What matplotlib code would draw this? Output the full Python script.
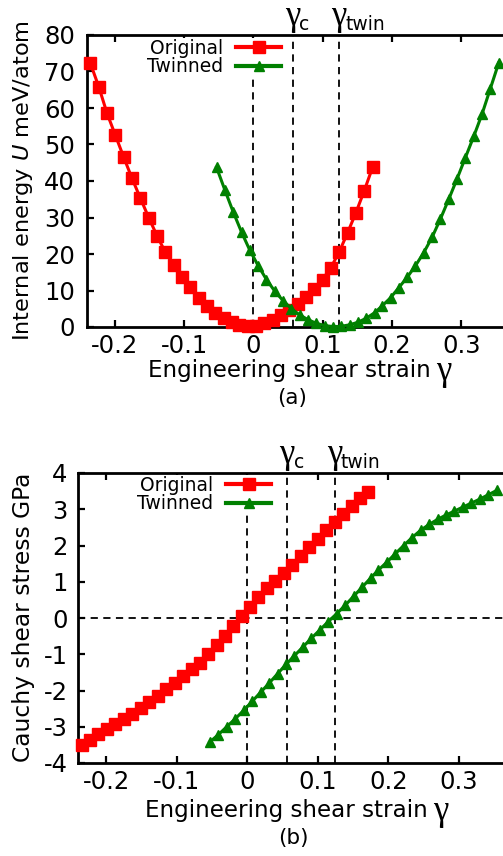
import matplotlib
matplotlib.use("Agg")
import matplotlib.pyplot as plt
from matplotlib.lines import Line2D

plt.rcParams['font.family'] = ['DejaVu Sans']

W, H = 503, 856

# ---------------- data ----------------
strain_orig = [-0.235, -0.223, -0.211, -0.199, -0.187, -0.175, -0.163, -0.151,
               -0.139, -0.127, -0.115, -0.103, -0.091, -0.079, -0.067, -0.055,
               -0.043, -0.031, -0.020, -0.008, 0.004, 0.016, 0.028, 0.040,
               0.052, 0.064, 0.076, 0.088, 0.100, 0.112, 0.124, 0.136,
               0.148, 0.160, 0.172]
energy_orig = [72.2, 65.8, 58.5, 52.5, 46.5, 40.7, 35.3, 30.0, 25.0, 20.5,
               17.0, 13.8, 10.9, 8.0, 5.8, 3.8, 2.4, 1.3, 0.6, 0.2,
               0.3, 1.0, 2.0, 3.2, 4.6, 6.2, 8.2, 10.4, 13.0, 16.3,
               20.6, 25.8, 31.3, 37.3, 43.7]
stress_orig = [-3.50, -3.36, -3.21, -3.07, -2.93, -2.79, -2.64, -2.48, -2.32,
               -2.14, -1.95, -1.78, -1.60, -1.42, -1.23, -1.00, -0.75, -0.50,
               -0.22, 0.05, 0.30, 0.58, 0.82, 1.02, 1.24, 1.47, 1.70, 1.95,
               2.18, 2.42, 2.64, 2.87, 3.08, 3.30, 3.47]

strain_twin = [-0.053, -0.041, -0.029, -0.017, -0.005, 0.007, 0.019, 0.031,
               0.043, 0.055, 0.067, 0.079, 0.091, 0.103, 0.115, 0.127,
               0.139, 0.151, 0.163, 0.175, 0.186, 0.198, 0.210, 0.222,
               0.234, 0.246, 0.258, 0.270, 0.282, 0.294, 0.306, 0.318,
               0.330, 0.342, 0.354]
energy_twin = [43.7, 37.5, 31.5, 26.0, 21.0, 16.8, 13.0, 9.8, 7.2, 5.0,
               3.3, 2.0, 1.0, 0.4, 0.1, 0.2, 0.6, 1.3, 2.4, 3.9,
               5.8, 8.0, 10.8, 13.6, 16.8, 20.4, 24.6, 29.6, 35.0, 40.6,
               46.4, 52.2, 58.3, 65.3, 72.3]
stress_twin = [-3.42, -3.22, -3.00, -2.78, -2.55, -2.30, -2.05, -1.80, -1.54,
               -1.28, -1.04, -0.80, -0.56, -0.33, -0.10, 0.12, 0.35, 0.60,
               0.85, 1.10, 1.32, 1.54, 1.77, 2.00, 2.22, 2.42, 2.58, 2.72,
               2.84, 2.95, 3.06, 3.17, 3.28, 3.40, 3.52]

gamma_c = 0.057
gamma_twin = 0.124

x_ticks = [-0.2, -0.1, 0, 0.1, 0.2, 0.3]
x_ticklabels = ['-0.2', '-0.1', '0', '0.1', '0.2', '0.3']
energy_ticks = [0, 10, 20, 30, 40, 50, 60, 70, 80]
energy_ticklabels = ['0', '10', '20', '30', '40', '50', '60', '70', '80']
stress_ticks = [-4, -3, -2, -1, 0, 1, 2, 3, 4]
stress_ticklabels = ['-4', '-3', '-2', '-1', '0', '1', '2', '3', '4']

RED = '#ff0000'
GREEN = '#008000'
DASH = (0, (4, 3))

fig = plt.figure(figsize=(W / 100, H / 100), dpi=100)

def px_axes(left, top, right, bottom):
    return fig.add_axes([left / W, 1 - bottom / H, (right - left) / W, (bottom - top) / H])

xlim = (-0.24, 0.40)
ax1 = px_axes(87, 35, 87 + 0.64 * 693, 327)
ax2 = px_axes(78, 473, 78 + 0.64 * 705, 763)

def style(ax, ypad):
    for s in ax.spines.values():
        s.set_linewidth(2.0)
    ax.tick_params(direction='in', top=True, right=True, length=5, width=1.6,
                   labelsize=17.5)
    ax.tick_params(axis='x', pad=5)
    ax.tick_params(axis='y', pad=ypad)
    ax.set_xlim(*xlim)
    ax.set_xticks(x_ticks)
    ax.set_xticklabels(x_ticklabels)

# ---------------- panel (a) ----------------
style(ax1, 8.5)
ax1.set_ylim(0, 80)
ax1.set_yticks(energy_ticks)
ax1.set_yticklabels(energy_ticklabels)
for xv in (0, gamma_c, gamma_twin):
    ax1.axvline(xv, color='k', ls=DASH, lw=1.3, zorder=1)
ax1.plot(strain_orig, energy_orig, color=RED, lw=2.2, marker='s', ms=8,
         mec=RED, mfc=RED, clip_on=False, zorder=3)
ax1.plot(strain_twin, energy_twin, color=GREEN, lw=2.2, marker='^', ms=7,
         mec=GREEN, mfc=GREEN, clip_on=False, zorder=4)

# ---------------- panel (b) ----------------
style(ax2, 7.5)
ax2.set_ylim(-4, 4)
ax2.set_yticks(stress_ticks)
ax2.set_yticklabels(stress_ticklabels)
for xv in (0, gamma_c, gamma_twin):
    ax2.axvline(xv, color='k', ls=DASH, lw=1.3, zorder=1)
ax2.axhline(0, color='k', ls=DASH, lw=1.3, zorder=1)
ax2.plot(strain_orig, stress_orig, color=RED, lw=2.2, marker='s', ms=8,
         mec=RED, mfc=RED, clip_on=False, zorder=3)
ax2.plot(strain_twin, stress_twin, color=GREEN, lw=2.2, marker='^', ms=7,
         mec=GREEN, mfc=GREEN, clip_on=False, zorder=4)

# ---------------- legends ----------------
handles = [Line2D([], [], color=RED, lw=3, marker='s', ms=9, mec=RED, mfc=RED),
           Line2D([], [], color=GREEN, lw=3, marker='^', ms=7, mec=GREEN, mfc=GREEN)]
labels = ['Original', 'Twinned']
for ax, right, top in ((ax1, 282, 38), (ax2, 272, 475)):
    leg = ax.legend(handles, labels, loc='upper right',
                    bbox_to_anchor=(right / W, 1 - top / H),
                    bbox_transform=fig.transFigure, markerfirst=False,
                    fontsize=13.5, handlelength=2.4, handletextpad=0.7,
                    labelspacing=-0.03, borderpad=0.05, borderaxespad=0,
                    frameon=True, fancybox=False, framealpha=1,
                    facecolor='white', edgecolor='none', numpoints=1)
    leg.set_zorder(2)

# ---------------- gamma markers above axes ----------------
fig.canvas.draw()
r = fig.canvas.get_renderer()
for ax in (ax1, ax2):
    for xv, sub in ((gamma_c, 'c'), (gamma_twin, 'twin')):
        g = ax.annotate('γ', xy=(xv, 1), xycoords=('data', 'axes fraction'),
                        xytext=(-8 * 0.72, 1.5), textcoords='offset points',
                        ha='left', va='bottom', family='Liberation Serif',
                        fontsize=25)
        gb = g.get_window_extent(r)
        x_line = ax.transData.transform((xv, 0))[0]
        ax.annotate(sub, xy=(xv, 1), xycoords=('data', 'axes fraction'),
                    xytext=((gb.x1 - x_line - 1) * 0.72, 3.5),
                    textcoords='offset points',
                    ha='left', va='baseline', fontsize=13.5)

# ---------------- axis labels ----------------
fig.text(23 / W, 1 - 181 / H, r'Internal energy $\mathit{U}$ meV/atom',
         rotation=90, ha='center', va='center', fontsize=16.2)
fig.text(24 / W, 1 - 617 / H, 'Cauchy shear stress GPa',
         rotation=90, ha='center', va='center', fontsize=16.8)

xl1 = fig.text(148 / W, 1 - 377 / H, 'Engineering shear strain',
               ha='left', va='baseline', fontsize=16.6)
xl2 = fig.text(145 / W, 1 - 817 / H, 'Engineering shear strain',
               ha='left', va='baseline', fontsize=16.6)
fig.text(292 / W, 1 - 398 / H, '(a)', ha='center', va='center', fontsize=15.5)
fig.text(293 / W, 1 - 838 / H, '(b)', ha='center', va='center', fontsize=15.5)

fig.canvas.draw()
for xl, base in ((xl1, 380), (xl2, 820)):
    bb = xl.get_window_extent(r)
    fig.text((bb.x1 + 5) / W, 1 - base / H, 'γ', family='Liberation Serif',
             ha='left', va='baseline', fontsize=25)

fig.savefig('out.png', dpi=100)
